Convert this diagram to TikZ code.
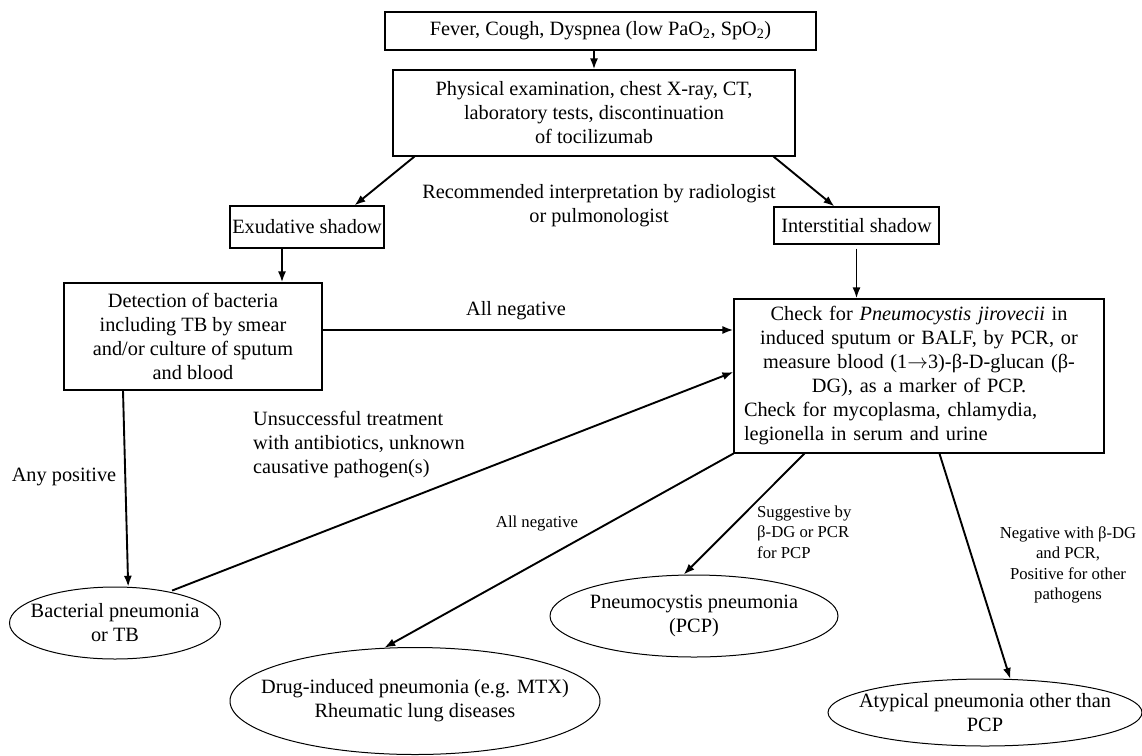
\documentclass[tikz,border=0pt]{standalone}
\usepackage{fontspec}
\setmainfont{Liberation Serif}
\usetikzlibrary{positioning,shapes.geometric,arrows.meta}

\newcommand{\bigtxt}{\fontsize{20.3}{24}\selectfont}
\newcommand{\smalltxt}{\fontsize{16.7}{20.5}\selectfont}

\begin{document}
\begin{tikzpicture}[x=1pt,y=-1pt,>={Latex[length=11pt,width=8pt]},
                    every node/.style={font=\bigtxt},
                    flowbox/.style={draw, rectangle, align=center, inner sep=0pt, line width=1.1pt},
                    oval/.style={draw, ellipse, align=center, inner xsep=-60pt, inner ysep=-20pt,
                                 line width=1pt},
                    note/.style={align=center, inner sep=0pt},
                    conn/.style={->, line width=1.9pt}]
\useasboundingbox (0,0) rectangle (1142,755);
\node[flowbox, minimum width=431, minimum height=38] (fever) at (600.5,31)
  {Fever, Cough, Dyspnea (low PaO\textsubscript{2}, SpO\textsubscript{2})};
\node[flowbox, minimum width=402, minimum height=86] (phys) at (594,113)
  {Physical examination, chest X-ray, CT,\\laboratory tests, discontinuation\\of tocilizumab};
\node[flowbox, minimum width=154, minimum height=42] (exud) at (307,227) {Exudative shadow};
\node[flowbox, minimum width=165, minimum height=37] (inter) at (856.5,225.5) {Interstitial shadow};
\node[flowbox, minimum width=258, minimum height=107] (detect) at (193,336.5)
  {Detection of bacteria\\including TB by smear\\and/or culture of sputum\\and blood};
\node[flowbox, align=left, text width=350, inner xsep=10, minimum height=154] (check) at (919,376)
  {{\centering Check for \textit{Pneumocystis jirovecii} in\\induced sputum or BALF, by PCR, or\\
   measure blood (1\ensuremath{\rightarrow}3)-β-D-glucan (β-\\DG), as a marker of PCP.\par}
   Check for mycoplasma, chlamydia,\\legionella in serum and urine};
\node[oval, minimum width=211, minimum height=72] (bact) at (115,623) {Bacterial pneumonia\\or TB};
\node[oval, minimum width=370, minimum height=107] (drug) at (415,701)
  {Drug-induced pneumonia (e.g. MTX)\\Rheumatic lung diseases};
\node[oval, minimum width=288, minimum height=82] (pcp) at (694,616) {Pneumocystis pneumonia\\(PCP)};
\node[oval, minimum width=314, minimum height=67] (atyp) at (985,712.5) {Atypical pneumonia other than\\PCP};
% edge labels
\node[note] (recom) at (599,205.5) {Recommended interpretation by radiologist\\or pulmonologist};
\node[note] (neg1) at (516,311) {All negative};
\node[note] (anypos) at (64,477) {Any positive};
\node[note, align=left, anchor=west] (unsucc) at (253,445)
  {Unsuccessful treatment\\with antibiotics, unknown\\causative pathogen(s)};
\node[note, font=\smalltxt] (neg2) at (537,523) {All negative};
\node[note, font=\smalltxt, align=left, anchor=west] (sugg) at (757,532) {Suggestive by\\β-DG or PCR\\for PCP};
\node[note, font=\smalltxt] (negpos) at (1068,565) {Negative with β-DG\\and PCR,\\Positive for other\\pathogens};
% connectors
\draw[conn] (phys.north |- fever.south) -- (phys.north);
\draw[conn] ([xshift=22pt]phys.south west) -- ([xshift=125pt]exud.north west);
\draw[conn] ([xshift=-22pt]phys.south east) -- ([xshift=61pt]inter.north west);
\draw[conn] ([xshift=-25pt]exud.south) -- ([xshift=-25pt]exud.south |- detect.north);
\draw[conn, shorten <=4pt] (inter.south) -- (inter.south |- check.north);
\draw[conn] ([yshift=6.5pt]detect.east) -- ([yshift=6.5pt]detect.east -| check.west);
\draw[conn] ([xshift=-70pt]detect.south) -- (bact.70);
\draw[conn, shorten <=3pt] (bact.30) -- ([yshift=4pt]check.west);
\draw[conn] (check.south west) -- (drug.120);
\draw[conn] ([xshift=71pt]check.south west) -- (pcp.104);
\draw[conn] ([xshift=206pt]check.south west) -- (atyp.53);
\end{tikzpicture}
\end{document}
